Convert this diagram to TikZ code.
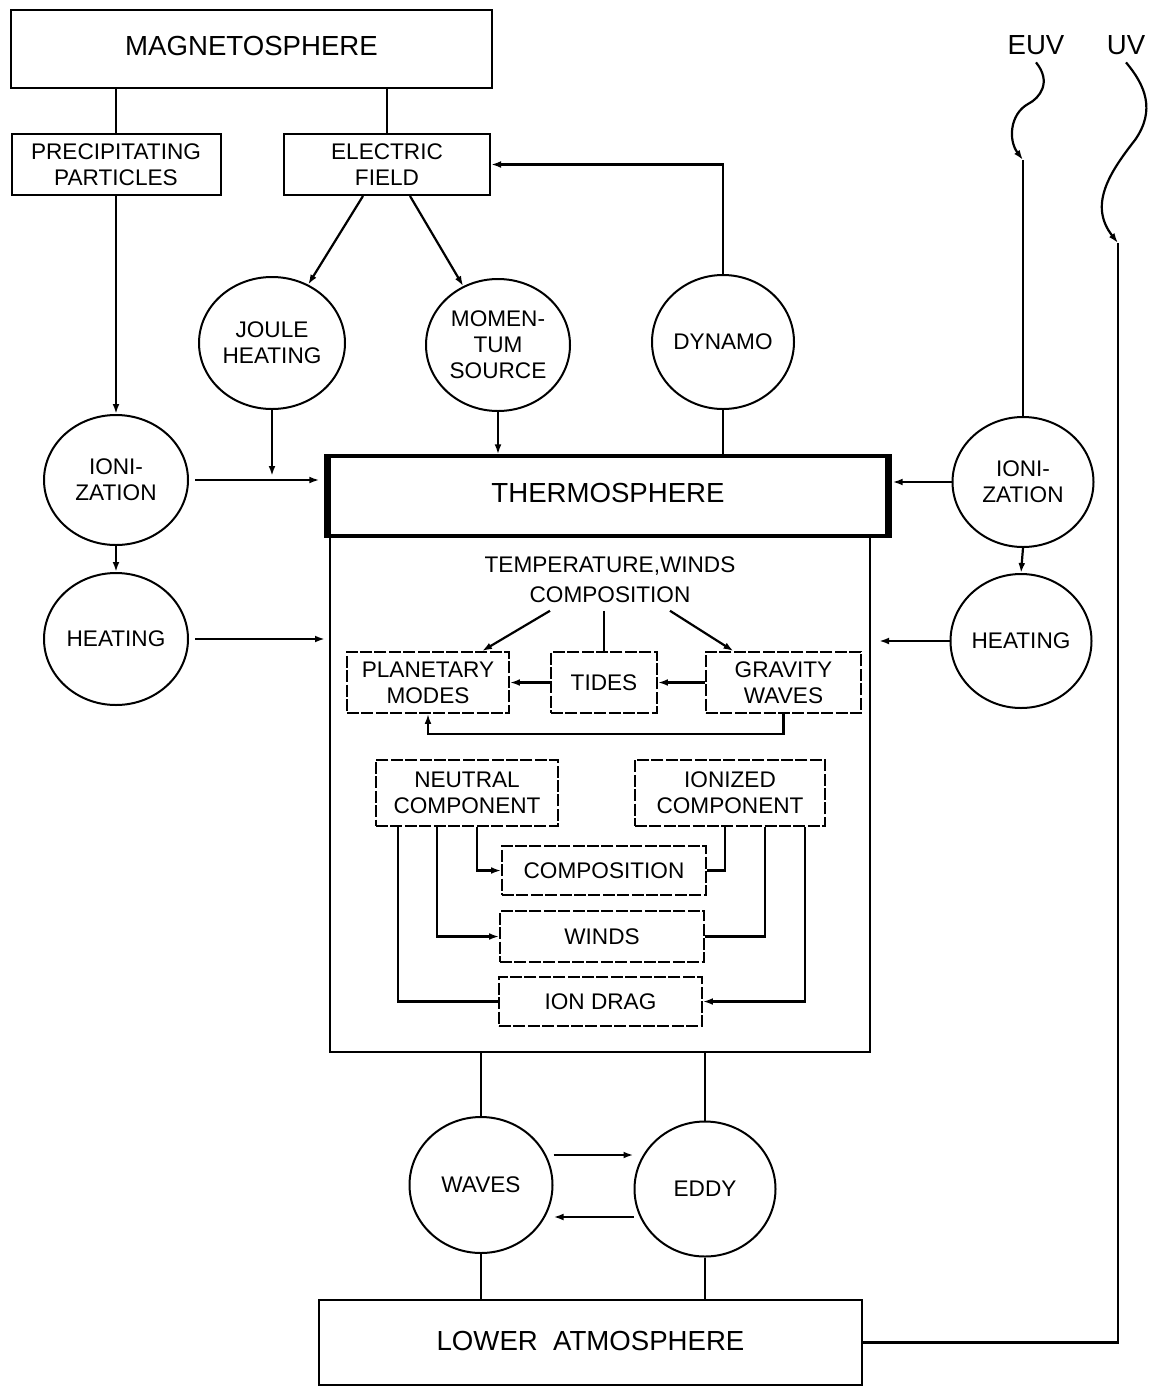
\documentclass[tikz,border=0pt]{standalone}
\usepackage{fontspec}
\setmainfont{Liberation Sans}
\usetikzlibrary{arrows.meta,shapes.geometric}
\newcommand{\bigtxt}{\fontsize{13.8}{16}\selectfont}
\newcommand{\smalltxt}{\fontsize{11.3}{13}\selectfont}
\tikzset{
  box/.style 2 args={draw, line width=1pt, inner sep=0pt, align=center,
    minimum width=#1*0.5pt, minimum height=#2*0.5pt, font=\smalltxt},
  dbox/.style 2 args={box={#1}{#2}, line width=0.9pt, dash pattern=on 6pt off 1.2pt},
  blob/.style 2 args={ellipse, draw, line width=1pt, inner sep=0pt, align=center,
    minimum width=#1*0.5pt, minimum height=#2*0.5pt, font=\smalltxt},
  arr/.style={-{Latex[length=5pt,width=3.4pt]}},
}

\begin{document}
\begin{tikzpicture}[x=0.5pt, y=-0.5pt, line width=1.1pt]
  \useasboundingbox (0,0) rectangle (1159,1387);

  % top row
  \node[box={481}{78}, font=\bigtxt] (mag) at (251.5,49) {\raisebox{3pt}{MAGNETOSPHERE}};
  \node[box={209}{61}] (precip) at (116,164.5) {PRECIPITATING\\PARTICLES};
  \node[box={206}{61}] (efield) at (387,164.5) {ELECTRIC\\FIELD};
  \node[font=\bigtxt] (euv) at (1036,45) {EUV};
  \node[font=\bigtxt] (uv) at (1126,45) {UV};

  % sources
  \node[blob={146}{132}] (joule) at (272,343) {JOULE\\HEATING};
  \node[blob={144}{132}] (mom) at (498,345) {MOMEN-\\TUM\\SOURCE};
  \node[blob={142}{134}] (dyn) at (723,342) {DYNAMO};
  \node[blob={144}{130}] (ionL) at (116,480) {IONI-\\ZATION};
  \node[blob={144}{132}] (heatL) at (116,639) {HEATING};
  \node[blob={141}{130}] (ionR) at (1023,482) {IONI-\\ZATION};
  \node[blob={141}{134}] (heatR) at (1021,641) {HEATING};

  % thermosphere
  \node[box={558}{80}, line width=1.6pt, font=\bigtxt] (therm) at (608,496) {\raisebox{3pt}{THERMOSPHERE}};
  \draw[line width=3pt] (therm.north west) -- (therm.south west)
    (therm.north east) -- (therm.south east);
  \node[box={540}{516}] (body) at (600,794) {};
  \node[align=center, font=\fontsize{11.3}{15}\selectfont] (state) at (610,580)
    {TEMPERATURE,WINDS\\COMPOSITION};
  \node[dbox={162}{61}] (planet) at (428,682.5) {PLANETARY\\MODES};
  \node[dbox={106}{61}] (tides) at (604,682.5) {TIDES};
  \node[dbox={155}{61}] (grav) at (783.5,682.5) {GRAVITY\\WAVES};
  \node[dbox={182}{66}] (neutral) at (467,793) {NEUTRAL\\COMPONENT};
  \node[dbox={190}{66}] (ionized) at (730,793) {IONIZED\\COMPONENT};
  \node[dbox={204}{49}] (compo) at (604,870.5) {COMPOSITION};
  \node[dbox={204}{51}] (winds) at (602,936.5) {WINDS};
  \node[dbox={203}{49}] (drag) at (600.5,1001.5) {ION DRAG};

  % bottom
  \node[blob={143}{136}] (waves) at (481,1185) {WAVES};
  \node[blob={141}{135}] (eddy) at (705,1189) {EDDY};
  \node[box={543}{85}, font=\bigtxt] (lowatm) at (590.5,1342.5) {\raisebox{2pt}{LOWER\ \ ATMOSPHERE}};

  \coordinate (euvin) at (1023,160);
  \coordinate (uvin) at (1118,243);

  % connectors, outside
  \draw (precip.north) -- (precip.north |- mag.south);
  \draw (efield.north) -- (efield.north |- mag.south);
  \draw[arr] (precip.south) -- (ionL.north);
  \draw[arr] ([xshift=-12pt]efield.south) -- (joule);
  \draw[arr] ([xshift=11.5pt]efield.south) -- (mom);
  \draw[arr] (dyn.north) |- (efield.east);
  \draw (dyn.south) -- (dyn.south |- therm.north);
  \draw[arr] (mom.south) -- (mom.south |- therm.north);
  \draw[arr] (joule.south) -- ([yshift=2pt]joule.south |- ionL.east);
  \draw[arr, shorten <=3pt, shorten >=4pt] (ionL.east) -- (ionL.east -| therm.west);
  \draw[arr] (ionL.south) -- (heatL.north);
  \draw[arr, shorten <=3pt, shorten >=2pt] (heatL.east) -- (heatL.east -| body.west);
  \draw[arr, shorten >=2pt] (ionR.west) -- (ionR.west -| therm.east);
  \draw[arr, shorten >=4pt] (heatR.west) -- (heatR.west -| body.east);
  \draw[arr] (ionR.south) -- (heatR.north);
  \draw[arr] (euv.south) .. controls (1052,82) and (1040,98) .. (1028,104)
    .. controls (1010,114) and (1008,140) .. (euvin);
  \draw (euvin) -- (ionR.north);
  \draw[arr] (uv.south) .. controls (1145,85) and (1156,110) .. (1135,140)
    .. controls (1110,172) and (1088,205) .. (uvin);
  \draw (uvin) |- (lowatm.east);

  % connectors, inside
  \draw[arr] ([xshift=-30pt]state.south) -- ([xshift=27pt]planet.north);
  \draw (tides.north |- state.south) -- (tides.north);
  \draw[arr] ([xshift=30pt]state.south) -- ([xshift=-25pt]grav.north);
  \draw[arr] (tides.west) -- (planet.east);
  \draw[arr] (grav.west) -- (tides.east);
  \draw[arr] (grav.south) -- ++(0,20) -| (planet.south);
  \draw[arr] ([xshift=5pt]neutral.south) |- (compo.west);
  \draw[arr] ([xshift=-15pt]neutral.south) |- (winds.west);
  \draw ([xshift=-34.5pt]neutral.south) |- (drag.west);
  \draw ([xshift=-2.5pt]ionized.south) |- (compo.east);
  \draw ([xshift=17.5pt]ionized.south) |- (winds.east);
  \draw[arr] ([xshift=37.5pt]ionized.south) |- (drag.east);

  % connectors, below
  \draw (waves.north) -- (waves.north |- body.south);
  \draw (eddy.north) -- (eddy.north |- body.south);
  \draw[arr] ([yshift=15pt]waves.east) -- ([yshift=17pt]eddy.west);
  \draw[arr] ([yshift=-14pt]eddy.west) -- ([yshift=-16pt]waves.east);
  \draw (waves.south) -- (waves.south |- lowatm.north);
  \draw (eddy.south) -- (eddy.south |- lowatm.north);
\end{tikzpicture}
\end{document}
